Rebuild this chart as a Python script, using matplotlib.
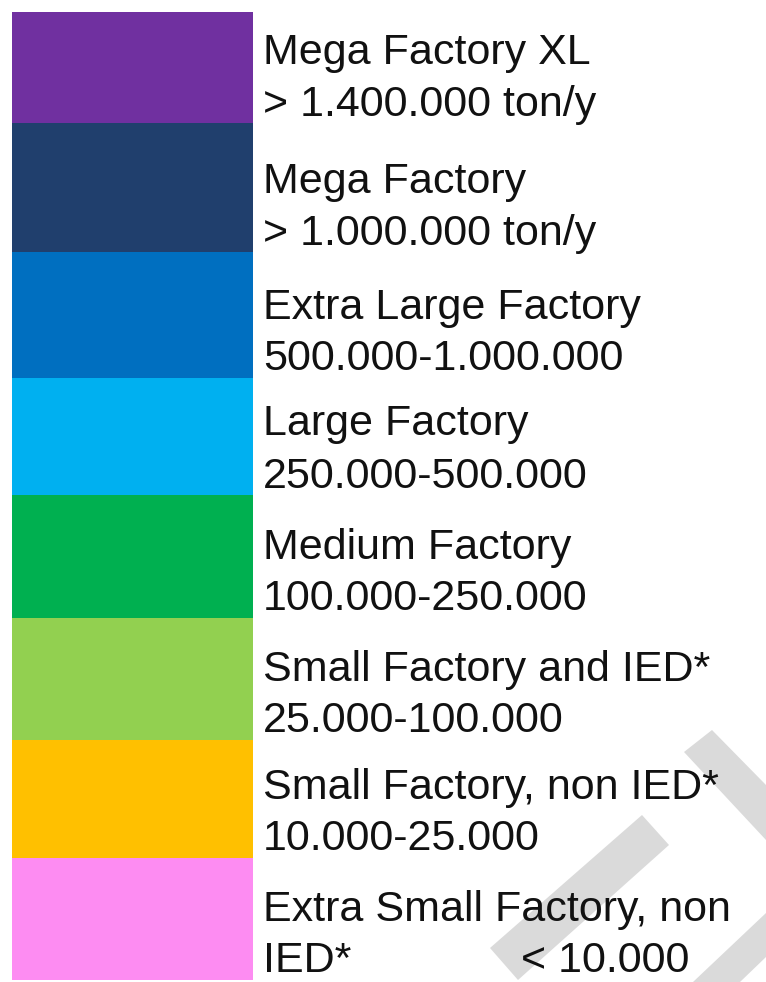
import numpy as np
import matplotlib.pyplot as plt
from matplotlib.patches import Polygon

# legend entries, top to bottom
class_names = ["Mega Factory XL", "Mega Factory", "Extra Large Factory", "Large Factory",
               "Medium Factory", "Small Factory and IED*", "Small Factory, non IED*",
               "Extra Small Factory, non"]
class_ranges = ["> 1.400.000 ton/y", "> 1.000.000 ton/y", "500.000-1.000.000", "250.000-500.000",
                "100.000-250.000", "25.000-100.000", "10.000-25.000", "< 10.000"]
class_colors = ["#7030a0", "#203f6d", "#006fc0", "#00b0f0",
                "#00b050", "#92d050", "#ffc000", "#fd8cf2"]

# layout (pixels)
W, H = 766, 982
row_heights = [111, 129, 126, 117, 123, 122, 118, 122]
top0 = 12
swatch_left, swatch_w = 12, 241
text_x = 263

plt.rcParams['font.family'] = ['Liberation Sans', 'DejaVu Sans']

fig = plt.figure(figsize=(W / 100, H / 100), dpi=100)
ax = fig.add_axes([0, 0, 1, 1])
ax.set_xlim(0, W)
ax.set_ylim(H, 0)
ax.axis('off')

tops = top0 + np.concatenate([[0], np.cumsum(row_heights)[:-1]])
ax.barh(tops, swatch_w, height=row_heights, left=swatch_left, align='edge',
        color=class_colors, edgecolor='none', zorder=2)

# faint watermark in the lower right corner
wm = '#dadada'
for pts in [[(490, 948), (642, 815), (669, 845), (518, 980)],
            [(684, 752), (712, 730), (766, 785), (766, 840)],
            [(693, 982), (766, 913), (766, 957), (740, 982)]]:
    ax.add_patch(Polygon(pts, closed=True, facecolor=wm, edgecolor='none', zorder=1))

for i, (name, rng) in enumerate(zip(class_names, class_ranges)):
    bottom = tops[i] + row_heights[i]
    ax.text(text_x, bottom - 59.5, name, fontsize=31, color='#111111',
            va='baseline', ha='left', zorder=3)
    if i == len(class_names) - 1:
        ax.text(text_x, bottom - 7.5, "IED*", fontsize=31, color='#111111',
                va='baseline', ha='left', zorder=3)
        ax.text(521, bottom - 7.5, rng, fontsize=31, color='#111111',
                va='baseline', ha='left', zorder=3)
    else:
        ax.text(text_x, bottom - 7.5, rng, fontsize=31, color='#111111',
                va='baseline', ha='left', zorder=3)

fig.savefig('out.png', dpi=100)
